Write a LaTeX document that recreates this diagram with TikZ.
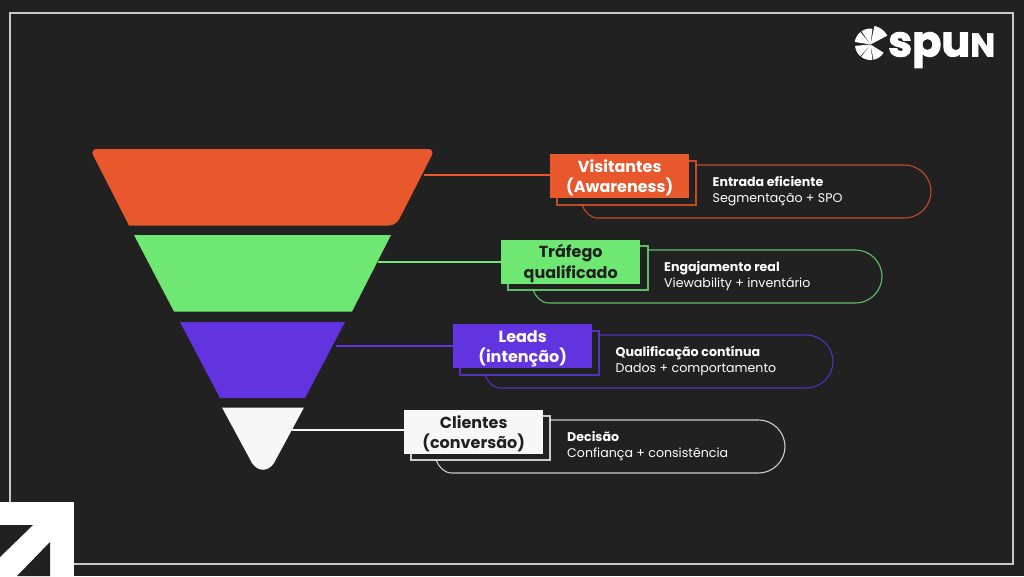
\documentclass[tikz,border=0pt]{standalone}
\usepackage{fontspec}
\setmainfont{Poppins}
\newfontfamily\logofont[FakeBold=2]{Poppins}
\definecolor{bgc}{HTML}{212121}
\definecolor{orangec}{HTML}{E9572D}
\definecolor{greenc}{HTML}{6EE873}
\definecolor{purplec}{HTML}{6234E0}
\definecolor{whitec}{HTML}{F7F7F7}
\definecolor{framec}{HTML}{C8C8C8}
\newcommand{\petal}[3]{\fill[white] (870.5,44.5) -- ++(#1:#3) arc[start angle=#1,end angle=#2,radius=#3] -- cycle;}
\newcommand{\twolines}[2]{\rule{0pt}{17pt}#1\\\rule[-4.5pt]{0pt}{4.5pt}#2}
\newcommand{\pillpath}[3]{%
  (#1,#3) -- (#2-26.5,#3) .. controls (#2-12,#3) and (#2,#3+12) .. (#2,#3+26.5)
  .. controls (#2,#3+41) and (#2-12,#3+53) .. (#2-26.5,#3+53)}
\tikzset{
  labelbox/.style={minimum width=139pt,minimum height=44pt,inner sep=0pt,align=center,anchor=north west,font=\fontsize{16}{20.5}\selectfont\bfseries},
  detail/.style={anchor=west,inner sep=0pt,align=left,text=white,font=\fontsize{12.6}{16.5}\selectfont},
  backbox/.style={line width=1.1pt,draw opacity=.8},
  pill/.style={line width=1.1pt,draw opacity=.8},
  link/.style={line width=2pt},
}
\begin{document}
\begin{tikzpicture}[x=1pt,y=-1pt]
\useasboundingbox (0,0) rectangle (1024,576);
\fill[bgc] (0,0) rectangle (1024,576);
\draw[framec,line width=1.1pt] (10,13) rectangle (1013,564);
% corner arrow
\fill[white] (0,502) rectangle (73.5,576);
\fill[bgc] (0,525) -- (33,525) -- (0,557) -- cycle;
\fill[bgc] (50,542) -- (50,576) -- (17,576) -- cycle;
% logo
\petal{-78}{-28}{19}
\petal{-124}{-83}{16}
\petal{-171}{-129}{16}
\petal{131}{175}{15.5}
\petal{83}{127}{15.5}
\petal{32}{79}{15.5}
\node[inner sep=0pt,anchor=base west,text=white,font=\logofont\fontsize{43}{43}\selectfont\bfseries] (logo) at (888,56.5) {spu\fontsize{33}{33}\selectfont N};
% funnel
\fill[orangec,rounded corners=7pt] (90,149) -- (435,149) -- (396,225.5) [sharp corners] -- (129,225.5) [rounded corners=7pt] -- cycle;
\fill[greenc] (134,235) -- (391,235) -- (352,311.5) -- (174,311.5) -- cycle;
\fill[purplec] (180,322) -- (345,322) -- (305,398) -- (220,398) -- cycle;
\fill[whitec] (222,407.5) -- (304,407.5) -- (274,463) .. controls (268,472) and (258,472) .. (252,463) -- cycle;
\coordinate (f1) at (424,174.5);
\coordinate (f2) at (378,261.5);
\coordinate (f3) at (336,345.5);
\coordinate (f4) at (292,430);
% row 1
\draw[orangec,pill] \pillpath{696}{931}{165} -- (598,218) .. controls (590,218) and (585,212) .. (582,205);
\draw[orangec,backbox] (557,161) rectangle (696,205);
\node[labelbox,fill=orangec,text=white] (l1) at (550,154) {\twolines{Visitantes}{(Awareness)}};
\draw[orangec,link] (f1) -- (l1.west |- f1);
\node[detail] (d1) at (712.5,191) {\textbf{Entrada eficiente}\\Segmentação + SPO};
% row 2
\draw[greenc,pill] \pillpath{648}{882}{250} -- (549,303) .. controls (541,303) and (536,297) .. (533,290);
\draw[greenc,backbox] (508,246) rectangle (648,290);
\node[labelbox,fill=greenc,text=bgc] (l2) at (501,239.5) {\twolines{Tráfego}{qualificado}};
\draw[greenc,link] (f2) -- (l2.west |- f2);
\node[detail] (d2) at (664,276) {\textbf{Engajamento real}\\Viewability + inventário};
% row 3
\draw[purplec,pill] \pillpath{599}{833}{335} -- (501,388) .. controls (493,388) and (488,382) .. (485,375);
\draw[purplec,backbox] (460,331) rectangle (599,375);
\node[labelbox,fill=purplec,text=white] (l3) at (453,324) {\twolines{Leads}{(intenção)}};
\draw[purplec,link] (f3) -- (l3.west |- f3);
\node[detail] (d3) at (615.5,361) {\textbf{Qualificação contínua}\\Dados + comportamento};
% row 4
\draw[whitec,pill] \pillpath{550}{785}{420} -- (452,473) .. controls (444,473) and (439,467) .. (436,460);
\draw[whitec,backbox] (411,416) rectangle (550,460);
\node[labelbox,fill=whitec,text=bgc] (l4) at (404,410) {\twolines{Clientes}{(conversão)}};
\draw[whitec,link] (f4) -- (l4.west |- f4);
\node[detail] (d4) at (567,446) {\textbf{Decisão}\\Confiança + consistência};
\end{tikzpicture}
\end{document}
